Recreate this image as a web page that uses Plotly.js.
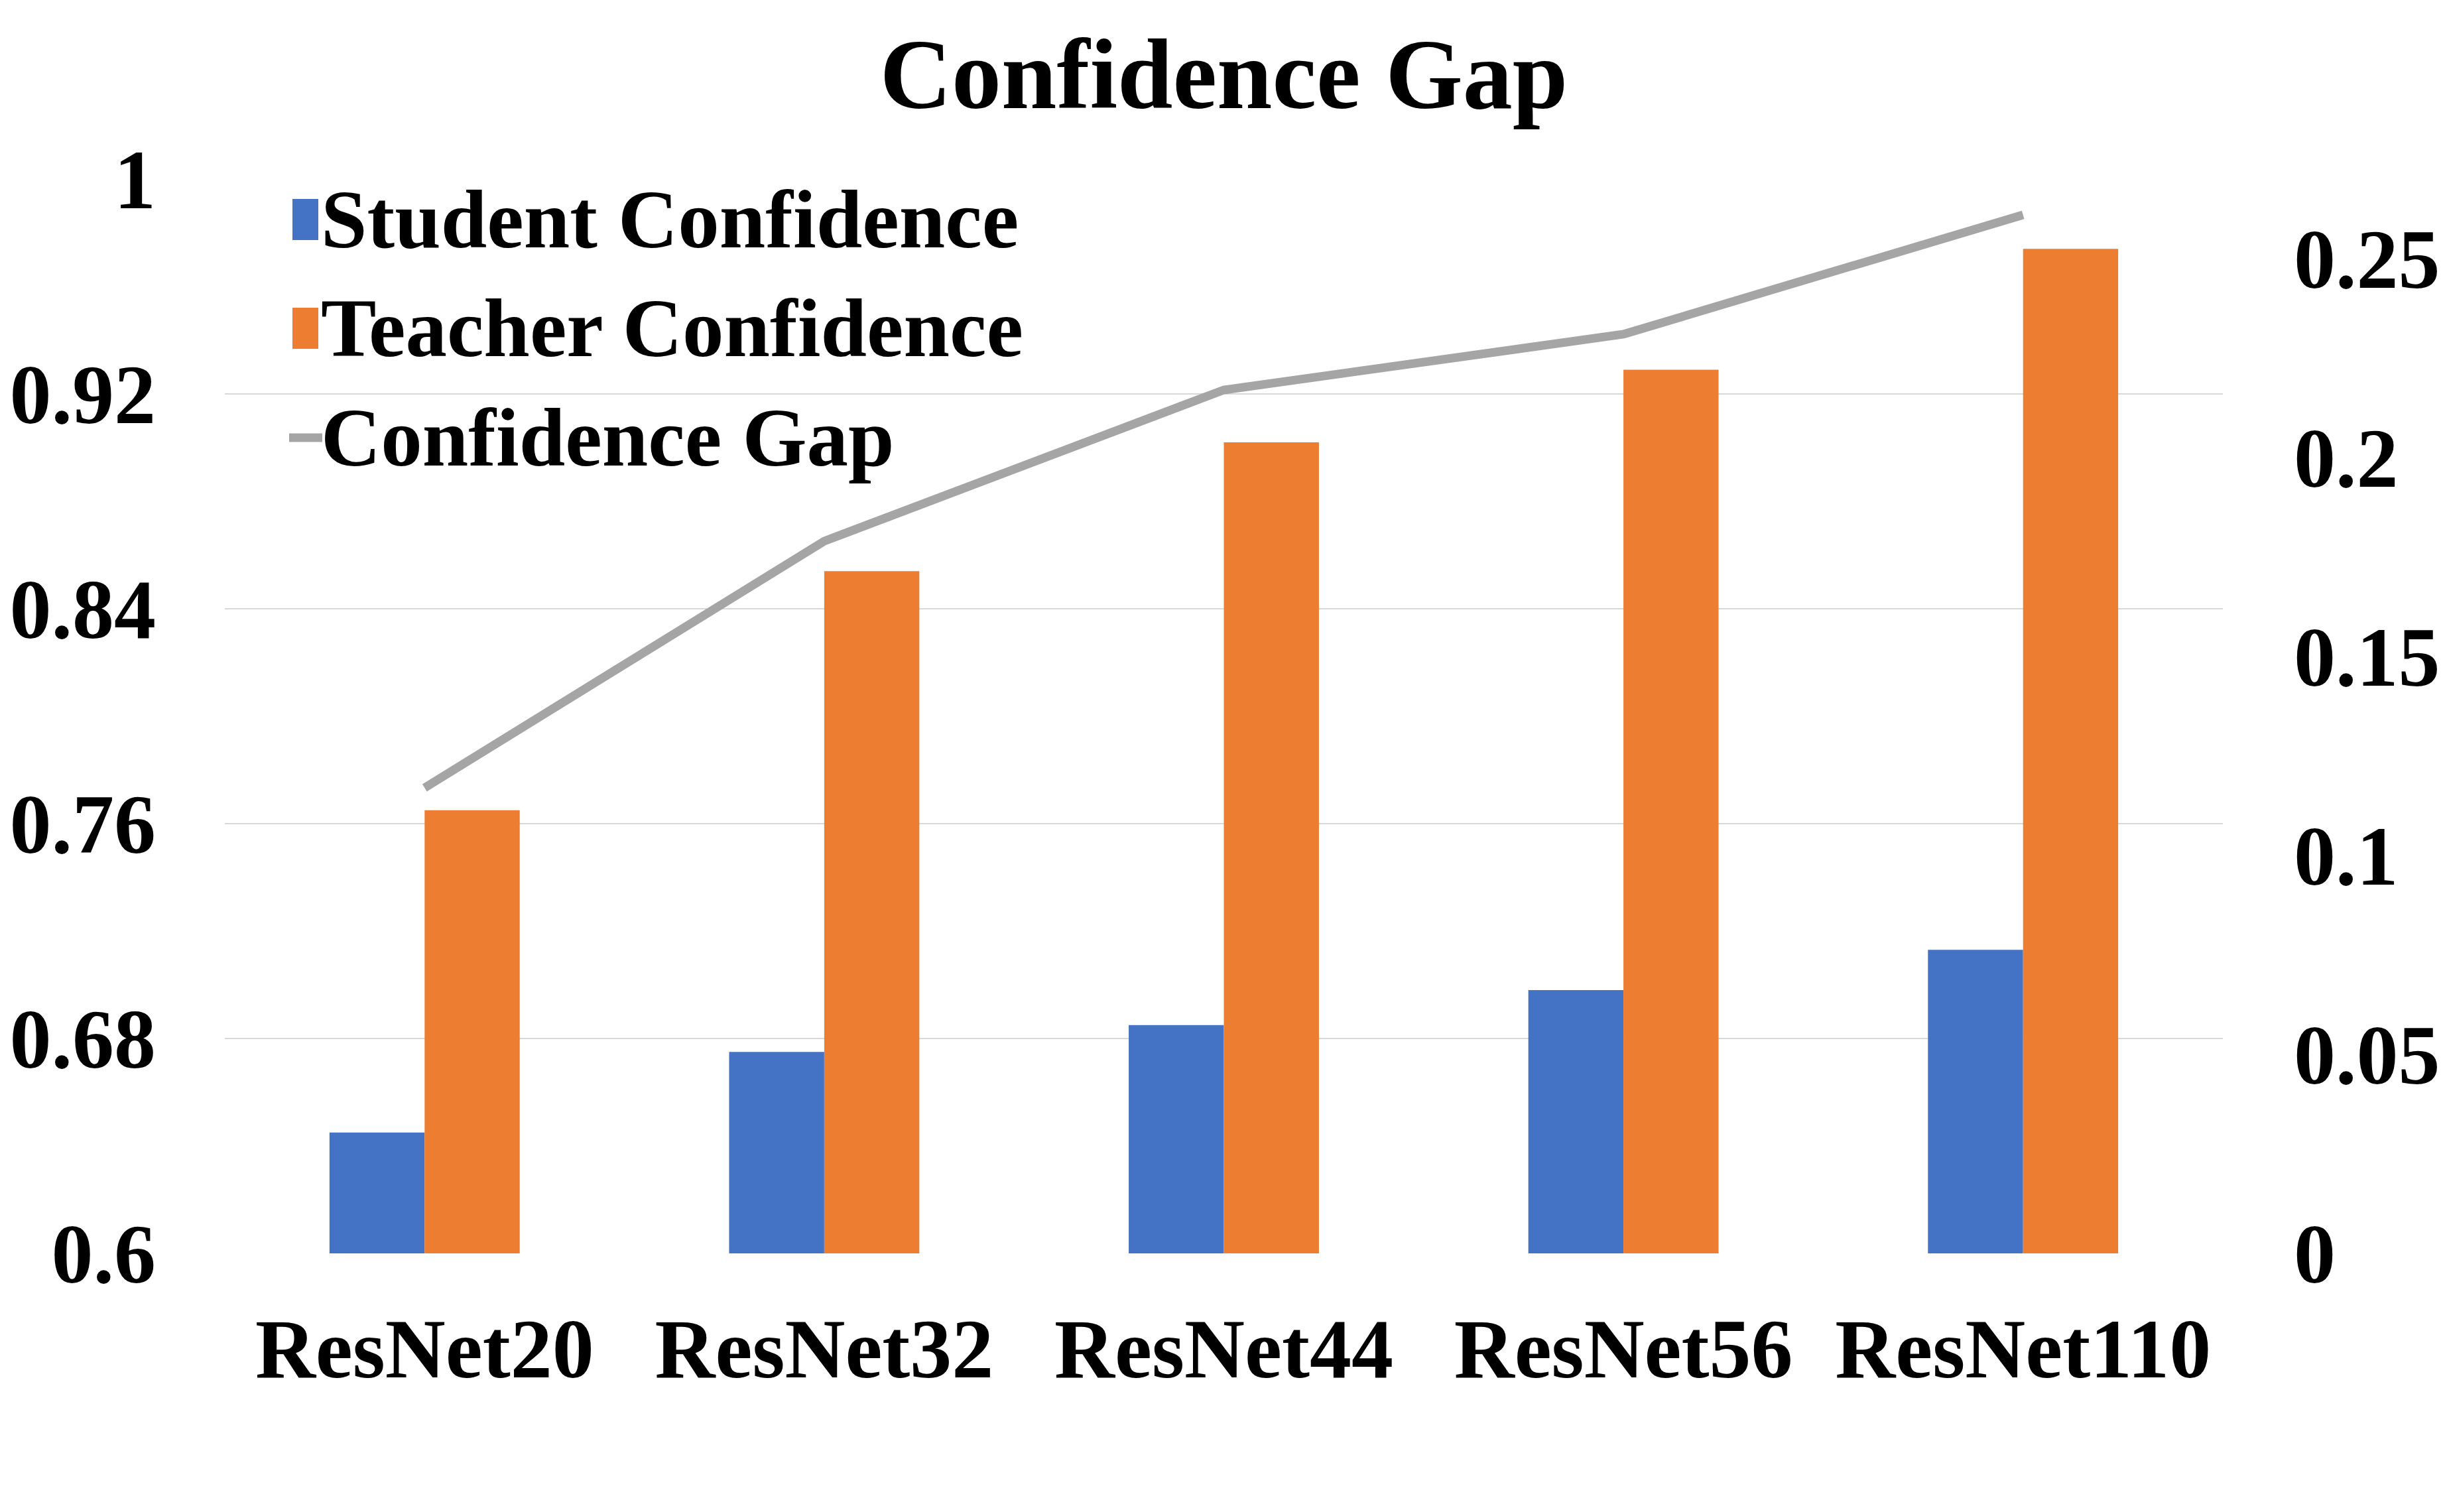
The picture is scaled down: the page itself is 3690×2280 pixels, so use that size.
<!DOCTYPE html>
<html>
<head>
<meta charset="utf-8">
<script src="https://cdn.plot.ly/plotly-3.0.1.min.js"></script>
<style>html,body{margin:0;padding:0;background:#fff}#chart{width:3690px;height:2280px}</style>
</head>
<body>
<div id="chart"></div>
<script>
// ---- data ----
var categories = ["ResNet20", "ResNet32", "ResNet44", "ResNet56", "ResNet110"];
var studentConfidence = [0.645, 0.675, 0.685, 0.698, 0.713];
var teacherConfidence = [0.765, 0.854, 0.902, 0.929, 0.974];
var confidenceGap = [0.117, 0.179, 0.217, 0.231, 0.261];
var seriesNames = ["Student Confidence", "Teacher Confidence", "Confidence Gap"];
var leftTickVals = [0.6, 0.68, 0.76, 0.84, 0.92, 1];
var leftTickText = ["0.6", "0.68", "0.76", "0.84", "0.92", "1"];
var rightTickVals = [0, 0.05, 0.1, 0.15, 0.2, 0.25];
var rightTickText = ["0", "0.05", "0.1", "0.15", "0.2", "0.25"];

var FONT = "Liberation Serif, Times New Roman, serif";
var colors = ["#4472C4", "#ED7D31", "#A5A5A5"];

var traces = [
  {type: "bar", name: seriesNames[0], x: categories, y: studentConfidence,
   marker: {color: colors[0]}, yaxis: "y", showlegend: false},
  {type: "bar", name: seriesNames[1], x: categories, y: teacherConfidence,
   marker: {color: colors[1]}, yaxis: "y", showlegend: false},
  {type: "scatter", mode: "lines", name: seriesNames[2], x: categories, y: confidenceGap,
   line: {color: colors[2], width: 13}, yaxis: "y2", showlegend: false}
];

// custom legend (paper coordinates)
var W = 3013, H = 1620;
function px(x) { return (x - 339) / W; }
function py(y) { return (1890 - y) / H; }
var rows = [331, 495, 660];
var shapes = [
  {type: "rect", xref: "paper", yref: "paper", x0: px(441), x1: px(480), y0: py(rows[0] + 31), y1: py(rows[0] - 31),
   fillcolor: colors[0], line: {width: 0}},
  {type: "rect", xref: "paper", yref: "paper", x0: px(441), x1: px(480), y0: py(rows[1] + 31), y1: py(rows[1] - 31),
   fillcolor: colors[1], line: {width: 0}},
  {type: "line", xref: "paper", yref: "paper", x0: px(436), x1: px(486), y0: py(rows[2]), y1: py(rows[2]),
   line: {color: colors[2], width: 13}}
];
var annotations = seriesNames.map(function (n, i) {
  return {xref: "paper", yref: "paper", x: px(482), y: py(rows[i]), xanchor: "left", yanchor: "middle",
          text: n, showarrow: false, font: {family: FONT, size: 125, color: "#000", weight: "bold"}};
});

var layout = {
  width: 3690, height: 2280,
  paper_bgcolor: "#fff", plot_bgcolor: "#fff",
  margin: {l: 339, r: 338, t: 270, b: 390},
  title: {text: "Confidence Gap", x: 0.5, xref: "paper", xanchor: "center",
          y: 1 - 110 / 2280, yref: "container", yanchor: "middle",
          font: {family: FONT, size: 150, color: "#000", weight: "bold"}},
  barmode: "group", bargap: 0.524, bargroupgap: 0,
  xaxis: {type: "category", showgrid: false, showline: false, zeroline: false, ticks: "",
          tickfont: {family: FONT, size: 126, color: "#000", weight: "bold"}, ticklabelstandoff: 60},
  yaxis: {range: [0.6, 1], tickvals: leftTickVals, ticktext: leftTickText, showgrid: true,
          gridcolor: "#D9D9D9", gridwidth: 2.5, zeroline: false, showline: false, ticks: "",
          tickfont: {family: FONT, size: 126, color: "#000", weight: "bold"}, ticklabelstandoff: 103},
  yaxis2: {range: [0, 0.27], overlaying: "y", side: "right", tickvals: rightTickVals, ticktext: rightTickText,
           showgrid: false, zeroline: false, showline: false, ticks: "",
           tickfont: {family: FONT, size: 126, color: "#000", weight: "bold"}, ticklabelstandoff: 106},
  shapes: shapes, annotations: annotations, showlegend: false
};

Plotly.newPlot("chart", traces, layout, {staticPlot: true});
</script>
</body>
</html>
